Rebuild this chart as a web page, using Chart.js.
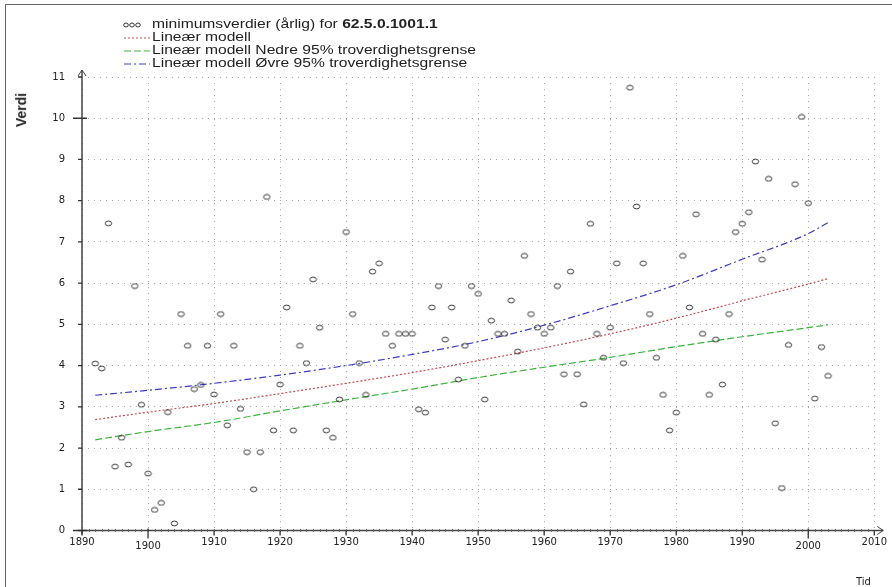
<!DOCTYPE html>
<html>
<head>
<meta charset="utf-8">
<script src="https://cdn.jsdelivr.net/npm/chart.js@4.4.0/dist/chart.umd.min.js"></script>
<style>
html, body { margin: 0; padding: 0; background: #fff; }
#wrap { position: relative; width: 892px; height: 587px; overflow: hidden; font-family: "Liberation Sans", Arial, sans-serif; color: #222; }
#frame { position: absolute; left: 5px; top: 4px; right: -5px; bottom: -5px; border-top: 1px solid #666; border-left: 1px solid #666; }
#chart { position: absolute; left: 0; top: 0; }
#legend { position: absolute; left: 122px; top: 18px; font-size: 12.5px; line-height: 13px; }
#legend div { display: flex; align-items: center; white-space: nowrap; height: 13px; }
#legend svg { width: 30px; height: 13px; flex: none; }
#legend span { display: inline-block; transform: scaleX(1.25); transform-origin: left center; }
#ylab { position: absolute; left: 4px; top: 110px; font-size: 14px; font-weight: bold; transform: translate(0, -50%) rotate(-90deg); transform-origin: center; }
#xlab { position: absolute; left: 856px; top: 576px; font-size: 10px; line-height: 12px; font-family: "DejaVu Sans", sans-serif; }
</style>
</head>
<body>
<div id="wrap">
  <div id="frame"></div>
  <canvas id="chart" width="892" height="587"></canvas>
  <div id="legend">
    <div><svg viewBox="0 0 30 13"><ellipse cx="4" cy="7" rx="2.3" ry="2" fill="none" stroke="#333"/><ellipse cx="10" cy="7" rx="2.3" ry="2" fill="none" stroke="#333"/><ellipse cx="16" cy="7" rx="2.3" ry="2" fill="none" stroke="#333"/></svg><span>minimumsverdier (årlig) for <b>62.5.0.1001.1</b></span></div>
    <div><svg viewBox="0 0 30 13"><line x1="2" y1="7" x2="28" y2="7" stroke="#c84a4a" stroke-dasharray="2,2"/></svg><span>Lineær modell</span></div>
    <div><svg viewBox="0 0 30 13"><line x1="2" y1="7" x2="28" y2="7" stroke="#3cb43c" stroke-dasharray="7,3"/></svg><span>Lineær modell Nedre 95% troverdighetsgrense</span></div>
    <div><svg viewBox="0 0 30 13"><line x1="2" y1="7" x2="28" y2="7" stroke="#3c3cc8" stroke-dasharray="7,3,2,3"/></svg><span>Lineær modell Øvre 95% troverdighetsgrense</span></div>
  </div>
  <div id="ylab">Verdi</div>
  <div id="xlab">Tid</div>
</div>
<script>
// yearly minimum values
const years = [1892, 1893, 1894, 1895, 1896, 1897, 1898, 1899, 1900, 1901,
  1902, 1903, 1904, 1905, 1906, 1907, 1908, 1909, 1910, 1911,
  1912, 1913, 1914, 1915, 1916, 1917, 1918, 1919, 1920, 1921,
  1922, 1923, 1924, 1925, 1926, 1927, 1928, 1929, 1930, 1931,
  1932, 1933, 1934, 1935, 1936, 1937, 1938, 1939, 1940, 1941,
  1942, 1943, 1944, 1945, 1946, 1947, 1948, 1949, 1950, 1951,
  1952, 1953, 1954, 1955, 1956, 1957, 1958, 1959, 1960, 1961,
  1962, 1963, 1964, 1965, 1966, 1967, 1968, 1969, 1970, 1971,
  1972, 1973, 1974, 1975, 1976, 1977, 1978, 1979, 1980, 1981,
  1982, 1983, 1984, 1985, 1986, 1987, 1988, 1989, 1990, 1991,
  1992, 1993, 1994, 1995, 1996, 1997, 1998, 1999, 2000, 2001,
  2002, 2003];
const minValues = [4.05, 3.93, 7.45, 1.55, 2.25, 1.6, 5.93, 3.05, 1.38, 0.5,
  0.67, 2.87, 0.17, 5.25, 4.48, 3.43, 3.53, 4.48, 3.3, 5.25,
  2.55, 4.48, 2.95, 1.9, 1.0, 1.9, 8.09, 2.43, 3.54, 5.41,
  2.43, 4.48, 4.06, 6.09, 4.92, 2.43, 2.25, 3.18, 7.24, 5.25,
  4.06, 3.29, 6.28, 6.48, 4.77, 4.48, 4.77, 4.77, 4.77, 2.94,
  2.86, 5.41, 5.93, 4.63, 5.41, 3.66, 4.48, 5.93, 5.74, 3.18,
  5.09, 4.77, 4.77, 5.58, 4.34, 6.66, 5.25, 4.92, 4.77, 4.92,
  5.93, 3.79, 6.28, 3.79, 3.06, 7.44, 4.77, 4.19, 4.92, 6.48,
  4.06, 10.74, 7.86, 6.48, 5.25, 4.19, 3.29, 2.43, 2.86, 6.66,
  5.41, 7.67, 4.77, 3.29, 4.63, 3.54, 5.25, 7.24, 7.44, 7.72,
  8.95, 6.57, 8.53, 2.6, 1.03, 4.5, 8.4, 10.03, 7.94, 3.2,
  4.45, 3.75];

// model curves
const modelYears = [1892, 1900, 1910, 1920, 1930, 1940, 1950, 1960, 1970, 1980, 1990, 2000, 2003];
const modelFit   = [2.69, 2.87, 3.08, 3.32, 3.57, 3.83, 4.12, 4.43, 4.77, 5.15, 5.57, 5.98, 6.11];
const modelLower = [2.2, 2.4, 2.62, 2.9, 3.17, 3.43, 3.71, 3.96, 4.2, 4.46, 4.7, 4.92, 4.99];
const modelUpper = [3.28, 3.4, 3.57, 3.77, 4.0, 4.27, 4.58, 4.98, 5.45, 5.96, 6.58, 7.2, 7.47];

const xTicks = [1890, 1900, 1910, 1920, 1930, 1940, 1950, 1960, 1970, 1980, 1990, 2000, 2010];
const yTicks = [0, 1, 2, 3, 4, 5, 6, 7, 8, 9, 10, 11];

const TICKFONT = '"DejaVu Sans", sans-serif';

// open elliptic marker
const marker = document.createElement('canvas');
marker.width = 9;
marker.height = 7;
const mctx = marker.getContext('2d');
mctx.strokeStyle = '#222';
mctx.lineWidth = 0.9;
mctx.beginPath();
mctx.ellipse(4.5, 3.5, 3.2, 2.4, 0, 0, Math.PI * 2);
mctx.stroke();

function curve(vals) {
  return modelYears.map((y, i) => ({ x: y, y: vals[i] }));
}

// axes with arrows and tick marks
const axisPlugin = {
  id: 'axisPlugin',
  beforeDatasetsDraw(chart) {
    const ctx = chart.ctx;
    const xs = chart.scales.x, ys = chart.scales.y;
    const x0 = xs.getPixelForValue(1890);
    const y0 = ys.getPixelForValue(0);
    const xEnd = xs.getPixelForValue(2010) + 9;
    const yEnd = ys.getPixelForValue(11) - 7;
    ctx.save();
    ctx.strokeStyle = '#444';
    ctx.lineWidth = 1.5;
    ctx.beginPath();
    ctx.moveTo(x0 - 4, y0); ctx.lineTo(xEnd, y0);
    ctx.moveTo(x0, y0 + 4); ctx.lineTo(x0, yEnd);
    ctx.stroke();
    ctx.lineWidth = 1;
    ctx.beginPath();
    ctx.moveTo(xEnd - 6, y0 - 4); ctx.lineTo(xEnd, y0); ctx.lineTo(xEnd - 6, y0 + 4);
    ctx.moveTo(x0 - 4, yEnd + 6); ctx.lineTo(x0, yEnd); ctx.lineTo(x0 + 4, yEnd + 6);
    ctx.stroke();
    // minor ticks each year
    ctx.strokeStyle = '#666';
    ctx.beginPath();
    for (let yr = 1891; yr < 2010; yr++) {
      const px = Math.round(xs.getPixelForValue(yr)) + 0.5;
      ctx.moveTo(px, y0 - 1.5); ctx.lineTo(px, y0 + 1.5);
    }
    ctx.stroke();
    ctx.strokeStyle = '#333';
    ctx.lineWidth = 1.3;
    ctx.beginPath();
    xTicks.forEach(v => {
      const px = xs.getPixelForValue(v);
      const big = v % 100 === 0;
      ctx.moveTo(px, y0 - (big ? 2 : 0)); ctx.lineTo(px, y0 + (big ? 8 : 5));
    });
    yTicks.forEach(v => {
      const py = ys.getPixelForValue(v);
      const big = v % 10 === 0;
      ctx.moveTo(x0 - (big ? 9 : 4), py); ctx.lineTo(x0 + (big ? 5 : 0), py);
    });
    ctx.stroke();
    ctx.restore();
  }
};

new Chart(document.getElementById('chart'), {
  type: 'scatter',
  data: {
    datasets: [
      {
        label: 'minimumsverdier (årlig) for 62.5.0.1001.1',
        data: years.map((y, i) => ({ x: y, y: minValues[i] })),
        pointStyle: marker,
        pointRadius: 4,
        order: 0
      },
      {
        type: 'line',
        label: 'Lineær modell',
        data: curve(modelFit),
        borderColor: '#c84a4a',
        borderWidth: 1.2,
        borderDash: [2, 2],
        pointRadius: 0,
        cubicInterpolationMode: 'monotone',
        order: 1
      },
      {
        type: 'line',
        label: 'Lineær modell Nedre 95% troverdighetsgrense',
        data: curve(modelLower),
        borderColor: '#3cb43c',
        borderWidth: 1.2,
        borderDash: [7, 3],
        pointRadius: 0,
        cubicInterpolationMode: 'monotone',
        order: 1
      },
      {
        type: 'line',
        label: 'Lineær modell Øvre 95% troverdighetsgrense',
        data: curve(modelUpper),
        borderColor: '#3c3cc8',
        borderWidth: 1.2,
        borderDash: [7, 3, 2, 3],
        pointRadius: 0,
        cubicInterpolationMode: 'monotone',
        order: 1
      }
    ]
  },
  options: {
    responsive: false,
    animation: false,
    devicePixelRatio: 1,
    layout: { padding: { top: 77, right: 16, left: 0, bottom: 0 } },
    plugins: { legend: { display: false }, tooltip: { enabled: false } },
    scales: {
      x: {
        type: 'linear',
        min: 1890,
        max: 2010,
        afterBuildTicks: s => { s.ticks = xTicks.map(v => ({ value: v })); },
        afterFit: s => { s.height = 56.5; },
        grid: { color: '#a8a8a8', lineWidth: 1, drawTicks: false },
        border: { display: false, dash: [1, 5] },
        ticks: {
          padding: 5,
          color: '#222',
          maxRotation: 0,
          autoSkip: false,
          font: c => ({ family: TICKFONT, size: 10, lineHeight: (c.tick && c.tick.value % 100 === 0) ? '21px' : '13px' }),
          callback: v => String(v)
        }
      },
      y: {
        min: 0,
        max: 11,
        afterBuildTicks: s => { s.ticks = yTicks.map(v => ({ value: v })); },
        afterFit: s => { s.width = 82; },
        grid: { color: '#a8a8a8', lineWidth: 1, drawTicks: false },
        border: { display: false, dash: [1, 5] },
        ticks: {
          padding: 17,
          color: '#222',
          autoSkip: false,
          font: { family: TICKFONT, size: 10 },
          callback: v => String(v)
        }
      }
    }
  },
  plugins: [axisPlugin]
});
</script>
</body>
</html>
